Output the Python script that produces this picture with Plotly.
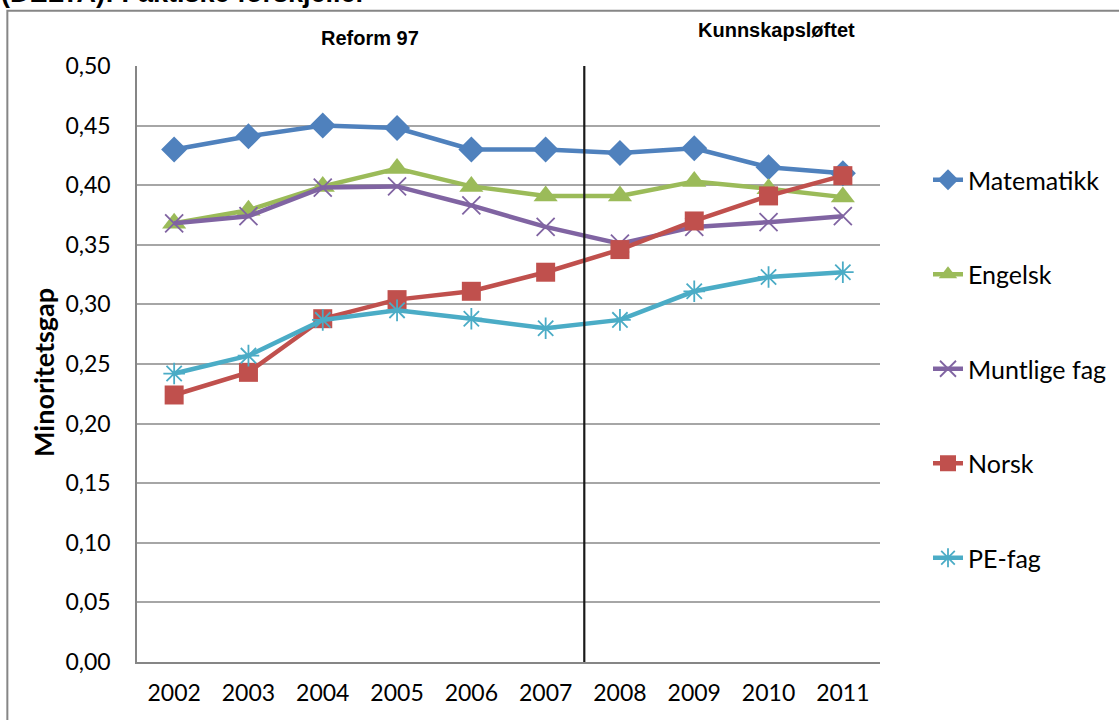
import plotly.graph_objects as go

# Years on the category axis
years = ["2002", "2003", "2004", "2005", "2006", "2007", "2008", "2009", "2010", "2011"]

# Minority gap per subject
matematikk = [0.430, 0.441, 0.450, 0.448, 0.430, 0.430, 0.427, 0.431, 0.415, 0.410]
engelsk = [0.368, 0.379, 0.399, 0.414, 0.399, 0.391, 0.391, 0.403, 0.397, 0.390]
muntlige_fag = [0.368, 0.374, 0.398, 0.399, 0.383, 0.365, 0.351, 0.365, 0.369, 0.374]
norsk = [0.224, 0.243, 0.288, 0.304, 0.311, 0.327, 0.346, 0.370, 0.391, 0.408]
pe_fag = [0.242, 0.257, 0.287, 0.295, 0.288, 0.280, 0.287, 0.311, 0.323, 0.327]

y_ticks = [0.00, 0.05, 0.10, 0.15, 0.20, 0.25, 0.30, 0.35, 0.40, 0.45, 0.50]
y_tick_text = ["0,00", "0,05", "0,10", "0,15", "0,20", "0,25", "0,30", "0,35", "0,40", "0,45", "0,50"]

# Reform boundary sits between 2007 and 2008 (category index 5.5)
reform_split = 5.52

FONT = "Lato"

series = [
    ("Matematikk", matematikk, "#4F81BD", dict(symbol="diamond", size=20)),
    ("Engelsk", engelsk, "#9BBB59", dict(symbol="triangle-up", size=21)),
    ("Muntlige fag", muntlige_fag, "#8064A2", dict(symbol="x-thin", size=18)),
    ("Norsk", norsk, "#C0504D", dict(symbol="square", size=19)),
    ("PE-fag", pe_fag, "#4BACC6", dict(symbol="asterisk", size=18)),
]

fig = go.Figure()
for i, (name, vals, color, mk) in enumerate(series):
    marker = dict(color=color, **mk)
    if mk["symbol"] in ("x-thin", "asterisk"):
        marker["line"] = dict(color=color, width=1.8)
    else:
        marker["line"] = dict(color=color, width=0)
    fig.add_trace(go.Scatter(
        x=list(range(len(years))), y=vals, name=name, mode="lines+markers",
        line=dict(color=color, width=4.5), marker=marker, legendgroup=f"g{i}",
    ))

fig.add_shape(type="line", xref="x", yref="paper", x0=reform_split, x1=reform_split,
              y0=0, y1=1, line=dict(color="#1a1a1a", width=2.2))

# Outer chart frame
fig.add_shape(type="rect", xref="paper", yref="paper", x0=-0.1745, x1=1.4,
              y0=-0.2, y1=1.0925, line=dict(color="#868686", width=2), layer="below")

fig.add_annotation(text="Reform 97", xref="paper", yref="paper", x=(370 - 137) / 743,
                   y=(662 - 38) / 596, xanchor="center", yanchor="middle", showarrow=False,
                   font=dict(family="Liberation Sans", size=20, color="black", weight="bold"))
fig.add_annotation(text="Kunnskapsløftet", xref="paper", yref="paper", x=(776 - 137) / 743,
                   y=(662 - 30) / 596, xanchor="center", yanchor="middle", showarrow=False,
                   font=dict(family="Liberation Sans", size=20, color="black", weight="bold"))
fig.add_annotation(text="(DELTA): Faktiske forskjeller", xref="paper", yref="paper",
                   x=(-1 - 137) / 743, xanchor="left", y=(662 - 10) / 596, yanchor="bottom",
                   showarrow=False,
                   font=dict(family="Liberation Sans", size=27, color="black", weight="bold"))
# Y-axis title
fig.add_annotation(text="Minoritetsgap", xref="paper", yref="paper",
                   x=(43 - 137) / 743, y=(662 - 372) / 596, xanchor="center", yanchor="middle",
                   textangle=-90, showarrow=False,
                   font=dict(family=FONT, size=27, color="black", weight="bold"))

fig.update_layout(
    width=1119, height=720,
    margin=dict(l=137, r=239, t=66, b=58, autoexpand=False),
    paper_bgcolor="white", plot_bgcolor="white",
    font=dict(family=FONT, color="black"),
    showlegend=True,
    legend=dict(x=(928 - 137) / 743, y=(662 - 157) / 596, xanchor="left", yanchor="top",
                font=dict(family=FONT, size=25, color="black"), tracegroupgap=59,
                traceorder="grouped", bgcolor="rgba(0,0,0,0)"),
    xaxis=dict(tickmode="array", tickvals=list(range(len(years))), ticktext=years,
               range=[-0.5, len(years) - 0.5], showgrid=False, zeroline=False,
               showline=True, linecolor="#868686", linewidth=1.5, ticks="",
               tickfont=dict(family=FONT, size=23, color="black"), ticklabelstandoff=10),
    yaxis=dict(range=[0, 0.5], tickmode="array", tickvals=y_ticks, ticktext=y_tick_text,
               showgrid=True, gridcolor="#A6A6A6", gridwidth=1.5, zeroline=False,
               showline=True, linecolor="#868686", linewidth=1.5, ticks="",
               tickfont=dict(family=FONT, size=23, color="black"), ticklabelstandoff=20),
)

fig.write_html("out.html")
